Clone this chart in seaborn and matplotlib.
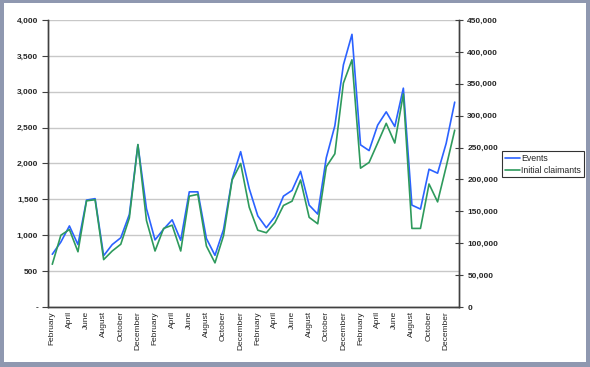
import matplotlib
matplotlib.use("Agg")
import matplotlib.pyplot as plt
import seaborn as sns
import numpy as np
from matplotlib.patches import Rectangle
from matplotlib.ticker import FuncFormatter, MultipleLocator

# month of each data point, February of year 1 to January of year 5
month_cycle = ["February", "March", "April", "May", "June", "July", "August",
               "September", "October", "November", "December", "January"]
months = month_cycle * 4

events = [735, 905, 1130, 870, 1490, 1510, 715, 870, 965, 1290, 2260, 1370,
          935, 1085, 1215, 930, 1605, 1605, 955, 720, 1080, 1780, 2165, 1650,
          1270, 1105, 1260, 1545, 1625, 1890, 1420, 1295, 2080, 2525, 3375, 3800,
          2260, 2180, 2535, 2720, 2515, 3050, 1420, 1365, 1920, 1865, 2280, 2855]

claimants = [67000, 112500, 121500, 86600, 166500, 168200, 74300, 87800, 98400, 139500, 254800, 135600,
             87800, 123200, 128300, 87800, 173800, 176600, 95600, 69200, 111900, 199100, 225000, 156400,
             120400, 116400, 132200, 159200, 165900, 199100, 140600, 130500, 219900, 240200, 351000, 387600,
             217700, 226700, 257100, 288000, 257100, 334100, 123200, 123200, 192900, 164800, 219900, 277300]

blue = "#2B62FF"
green = "#2E9A5C"

sns.set_style("white")
plt.rcParams["font.family"] = ["Liberation Sans", "DejaVu Sans"]

W, H = 590, 367
fig = plt.figure(figsize=(W / 100, H / 100), dpi=100, facecolor="#8F98B0")
fig.patches.append(Rectangle((4 / W, 1 - 362 / H), 582 / W, 359 / H,
                             transform=fig.transFigure, facecolor="white",
                             edgecolor="none", zorder=-5))

ax = fig.add_axes([48 / W, 1 - 307 / H, 411 / W, 287 / H])
ax.set_facecolor("none")
ax2 = ax.twinx()

idx = np.arange(len(events))
sns.lineplot(x=idx, y=events, ax=ax, color=blue, linewidth=1.2, label="Events", legend=False)
sns.lineplot(x=idx, y=claimants, ax=ax2, color=green, linewidth=1.2, label="Initial claimants", legend=False)

ax.set_xlim(-0.5, len(events) - 0.5)
ax.set_ylim(0, 4000)
ax2.set_ylim(0, 450000)

ax.yaxis.set_major_locator(MultipleLocator(500))
ax.yaxis.set_major_formatter(FuncFormatter(lambda v, p: "-" if v == 0 else f"{v:,.0f}"))
ax2.yaxis.set_major_locator(MultipleLocator(50000))
ax2.yaxis.set_major_formatter(FuncFormatter(lambda v, p: f"{v:,.0f}"))

ax.grid(axis="y", color="#C8C8C8", linewidth=1)
ax.set_axisbelow(True)

ax.set_xticks(idx[::2])
ax.set_xticklabels(months[::2], rotation=90, fontsize=6)
ax.set_xticks(np.arange(-0.5, len(events), 1), minor=True)
ax.tick_params(axis="x", which="major", length=0, pad=3)
ax.tick_params(axis="x", which="minor", length=3, color="#404040", direction="out")
ax.tick_params(axis="y", length=4, color="#404040", labelsize=6, pad=3)
ax2.tick_params(axis="y", length=6, color="#404040", labelsize=6, direction="inout", pad=3)
for lab in ax.get_yticklabels() + ax2.get_yticklabels():
    lab.set_fontweight("bold")

for a in (ax, ax2):
    a.spines["top"].set_visible(False)
    for s in ("left", "right", "bottom"):
        a.spines[s].set_color("#404040")
        a.spines[s].set_linewidth(1)
ax.set_xlabel("")
ax.set_ylabel("")
ax2.set_ylabel("")

h1, l1 = ax.get_legend_handles_labels()
h2, l2 = ax2.get_legend_handles_labels()
leg = fig.legend(h1 + h2, l1 + l2, loc="upper left", bbox_to_anchor=(502 / W, 1 - 151 / H),
                 fontsize=6.3, frameon=True, fancybox=False, borderpad=0.3,
                 handlelength=1.7, handletextpad=0.2, labelspacing=0.35, borderaxespad=0)
leg.get_frame().set_edgecolor("black")
leg.get_frame().set_linewidth(0.8)

fig.savefig("out.png", dpi=100, facecolor=fig.get_facecolor())
